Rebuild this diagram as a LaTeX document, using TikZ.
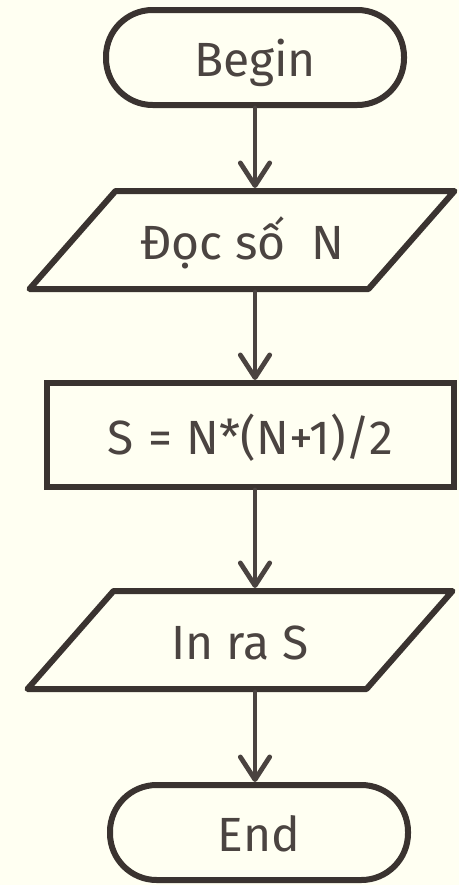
\documentclass[tikz,border=0pt]{standalone}
\usepackage{fontspec}
\setmainfont{Fira Sans}
\usepackage{tikz}
\usetikzlibrary{arrows.meta}
\definecolor{paperCream}{RGB}{255,255,242}
\definecolor{lineDark}{RGB}{58,51,48}
\definecolor{textDark}{RGB}{75,68,65}
\definecolor{arrowDark}{RGB}{74,67,64}

\begin{document}
\begin{tikzpicture}[
    x=0.75pt, y=-0.75pt,
    boxtext/.style={font=\fontsize{36}{42}\selectfont, text=textDark,
                    text height=28.8pt, text depth=0pt, inner sep=0pt},
    % Start / end pill
    terminal/.style={
        boxtext, rectangle, rounded corners=35pt,
        draw=lineDark, fill=paperCream,
        line width=4.5pt,
        minimum width=223.5pt, minimum height=71.25pt
    },
    % Input / output: text holder, outline drawn with ioedge
    iobox/.style={
        boxtext, rectangle,
        minimum width=253.5pt, minimum height=73.5pt,
        outer sep=2.25pt
    },
    ioedge/.style={draw=lineDark, line width=4.5pt, line join=round},
    % Process block
    proc/.style={
        boxtext, rectangle,
        draw=lineDark, fill=paperCream,
        line width=4.5pt,
        minimum width=305.25pt, minimum height=78pt
    },
    flow/.style={-{Straight Barb[round, length=17pt, width=22pt]},
                 line width=3.6pt, draw=arrowDark, line cap=round}
]
\useasboundingbox[fill=paperCream] (0,0) rectangle (459,885);
% ── NODES ─────────────────────────────────────────────────────
\node[terminal] (begin) at (255, 57.5) {Begin};
\node[iobox]    (read)  at (242, 240)  {Đọc số\ \ N};
\node[proc]     (calc)  at (250, 435)  {S\ \hspace{1.5pt}=\ \hspace{1.5pt}N*(N+1)/2};
\node[iobox]    (print) at (240, 640)  {In ra S};
\node[terminal] (end)   at (259, 832.5) {End};
% parallelogram outlines round the two I/O nodes
\draw[ioedge] ([shift={(-212.5,49)}]read.center)
    -- ([shift={(-126.5,-49)}]read.center)
    -- ([shift={(212.5,-49)}]read.center)
    -- ([shift={(126.5,49)}]read.center) -- cycle;
\draw[ioedge] ([shift={(-212.5,49)}]print.center)
    -- ([shift={(-126.5,-49)}]print.center)
    -- ([shift={(212.5,-49)}]print.center)
    -- ([shift={(126.5,49)}]print.center) -- cycle;
% ── ARROWS ────────────────────────────────────────────────────
\draw[flow] (begin.south) -- (begin.south |- read.north);
\draw[flow] (begin.south |- read.south) -- (begin.south |- calc.north);
\draw[flow] (begin.south |- calc.south) -- (begin.south |- print.north);
\draw[flow] (begin.south |- print.south) -- (begin.south |- end.north);
\end{tikzpicture}
\end{document}
